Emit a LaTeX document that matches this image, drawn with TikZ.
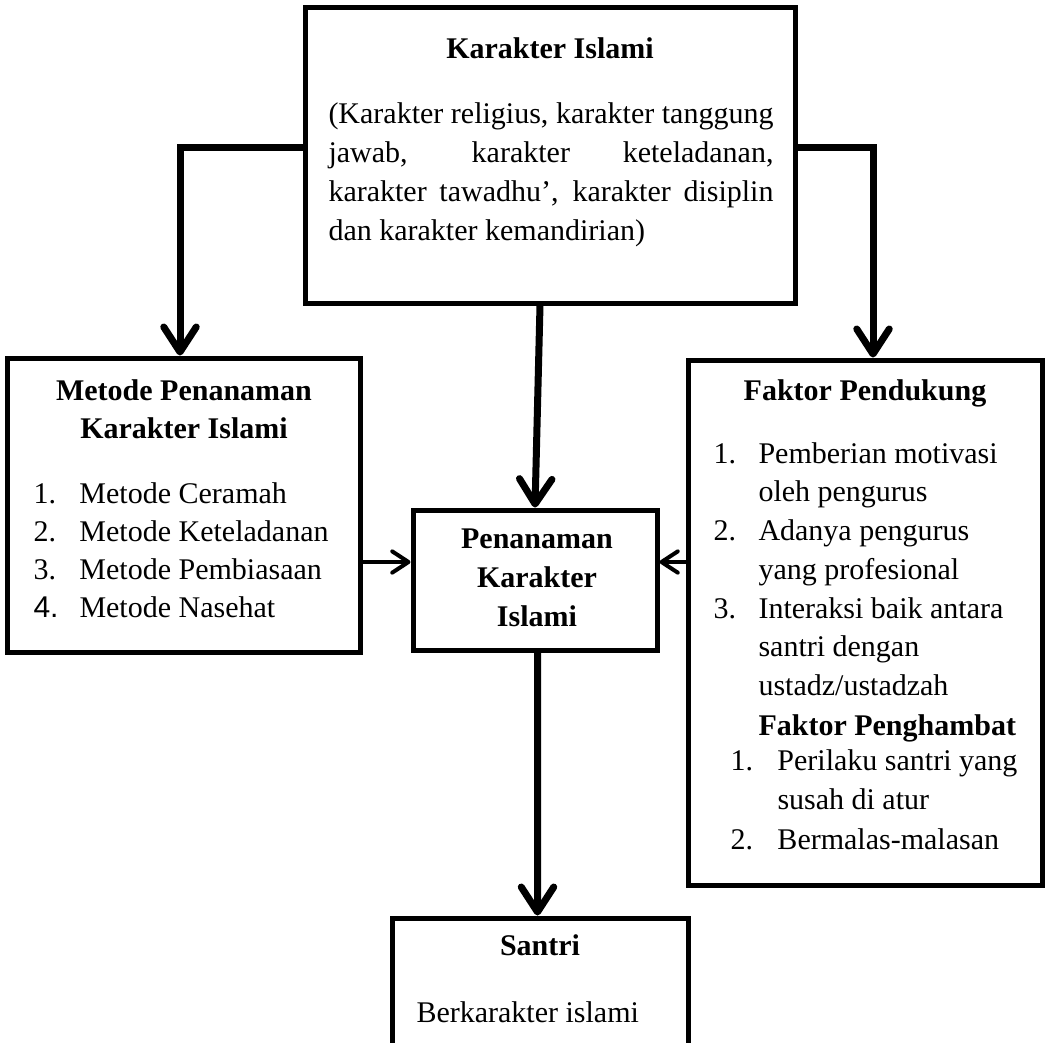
\documentclass[tikz,border=0pt]{standalone}
\usepackage{fontspec}
\setmainfont{Liberation Serif}
\newfontfamily\arialfont{Liberation Sans}
\usetikzlibrary{arrows.meta}

\begin{document}
\begin{tikzpicture}[x=0.4pt,y=-0.4pt,
        box/.style={draw, rectangle, line width=2pt, inner sep=0pt},
        head/.style={inner sep=0pt, anchor=base, align=center, font=\fontsize{12}{15.6}\selectfont\bfseries},
        item/.style={inner sep=0pt, anchor=base west, font=\fontsize{12}{15.6}\selectfont},
        arr/.style={line width=2.8pt, -{Straight Barb[length=10pt,width=13pt,round]}},
        arrsmall/.style={line width=1.6pt, -{Straight Barb[length=6.5pt,width=8.5pt,round]}}]
        \clip (0,0) rectangle (1046,1042);
        % kotak
        \node[box, minimum width=196pt, minimum height=118.4pt] (karakter) at (550,155) {};
        \node[box, minimum width=140.8pt, minimum height=117.6pt] (metode) at (184,505) {};
        \node[box, minimum width=97.6pt, minimum height=56pt] (penanaman) at (535,580) {};
        \node[box, minimum width=141.6pt, minimum height=210pt] (faktor) at (865,622.5) {};
        \node[box, minimum width=118.4pt, minimum height=56.8pt] (santri) at (540,989) {};
        % isi kotak (base = baris terakhir)
        \node[head] (karakterhead) at (550,58) {Karakter Islami};
        \node[item, text width=178pt, align=justify] (karaktertext) at (328,123) {(Karakter religius, karakter tanggung\linebreak jawab, karakter keteladanan,\linebreak karakter tawadhu’, karakter disiplin\linebreak dan karakter kemandirian)};
        \node[head, font=\fontsize{12}{15.2}\selectfont\bfseries] (metodehead) at (184,438) {Metode Penanaman\\Karakter Islami};
        \node[item, font=\fontsize{12}{15.3}\selectfont] (metodelist) at (33,503) {\begin{tabular}[t]{@{}p{18.4pt}@{}l@{}}
            1. & Metode Ceramah\\
            2. & Metode Keteladanan\\
            3. & Metode Pembiasaan\\
            {\arialfont 4.} & Metode Nasehat
        \end{tabular}};
        \node[head] (penanamanhead) at (537,626) {Penanaman\\Karakter\\Islami};
        \node[head] (faktorhead) at (865,400) {Faktor Pendukung};
        \node[item, font=\fontsize{12}{15.5}\selectfont] (pendukunglist) at (713,463) {\begin{tabular}[t]{@{}p{18pt}@{}l@{}}
            1. & Pemberian motivasi\\
               & oleh pengurus\\
            2. & Adanya pengurus\\
               & yang profesional\\
            3. & Interaksi baik antara\\
               & santri dengan\\
               & ustadz/ustadzah
        \end{tabular}};
        \node[item, font=\fontsize{12}{15.6}\selectfont\bfseries] (hambathead) at (758,735) {Faktor Penghambat};
        \node[item, font=\fontsize{12}{15.8}\selectfont] (hambatlist) at (730,770) {\begin{tabular}[t]{@{}p{18.8pt}@{}l@{}}
            1. & Perilaku santri yang\\
               & susah di atur\\
            2. & Bermalas-malasan
        \end{tabular}};
        \node[head] (santrihead) at (540,955) {Santri};
        \node[item] (santritext) at (416,1022) {Berkarakter islami};
        % panah
        \coordinate (pin) at ([yshift=7.2pt]penanaman.west);
        \coordinate (pout) at ([yshift=7.2pt]penanaman.east);
        \draw[arr] ([yshift=3.2pt]karakter.west) -| ([xshift=-1.6pt]metode.north);
        \draw[arr] ([yshift=3.2pt]karakter.east) -| ([xshift=3.2pt]faktor.north);
        \draw[arr] ([xshift=-4pt]karakter.south) -- (penanaman.north);
        \draw[arrsmall] (metode.east |- pin) -- (pin);
        \draw[arrsmall] (faktor.west |- pout) -- (pout);
        \draw[arr] ([xshift=1pt]penanaman.south) -- ([xshift=-1pt]santri.north);
    \end{tikzpicture}
\end{document}
